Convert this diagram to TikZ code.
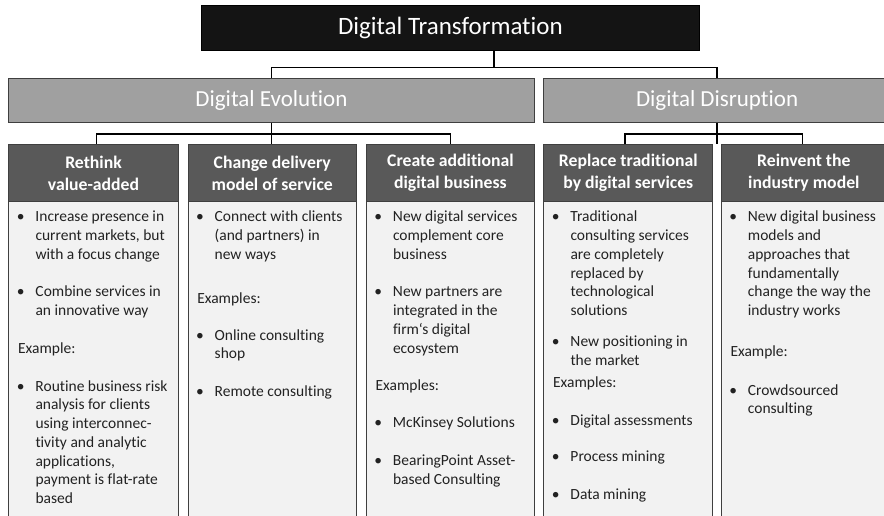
\documentclass[tikz,border=0pt]{standalone}
\usepackage{fontspec}
\setmainfont{Carlito}[Ligatures=NoCommon]
\definecolor{topfill}{HTML}{141414}
\definecolor{midfill}{HTML}{A0A0A0}
\definecolor{hdrfill}{HTML}{595959}
\definecolor{bodyfill}{HTML}{F2F2F2}
\definecolor{edgegray}{HTML}{3F3F3F}
\definecolor{txtgray}{HTML}{222222}
\newcommand{\mystrut}{\rule{0pt}{14pt}}
\newcommand{\bul}{\llap{\makebox[0pt][c]{•}\hspace{14.7pt}}}
\tikzset{
  conn/.style={draw=black, line width=1.4pt},
  topbox/.style={draw=black, fill=topfill, text=white, line width=1pt, inner sep=0,
    anchor=north west, font=\fontsize{25}{30}\selectfont},
  midbox/.style={draw=edgegray, fill=midfill, text=white, line width=1pt, inner sep=0,
    anchor=north west, font=\fontsize{23}{28}\selectfont},
  hdrbox/.style={draw=edgegray, fill=hdrfill, text=white, line width=1pt, inner sep=0,
    anchor=north west, align=center, minimum height=57,
    font=\bfseries\fontsize{17.7}{22}\selectfont},
  bodybox/.style={draw=edgegray, fill=bodyfill, line width=1pt, inner sep=0,
    anchor=north west, minimum height=330},
  para/.style={anchor=north west, align=left, inner sep=0, text=txtgray,
    font=\fontsize{15.5}{18.7}\selectfont},
}
\begin{document}
\begin{tikzpicture}[x=1pt,y=-1pt]
\useasboundingbox (0,0) rectangle (884,516);
\clip (0,0) rectangle (884,516);
\fill[white] (0,0) rectangle (884,516);

% top level
\node[topbox, minimum width=498.3, minimum height=44.7] (top) at (200.7,5.3) {Digital Transformation};
% second level
\node[midbox, minimum width=525.4, minimum height=43.4] (evo) at (8.3,78.3) {Digital Evolution};
\node[midbox, minimum width=346.7, minimum height=43.4] (dis) at (543.3,78.3) {Digital Disruption};

% column bodies
\node[bodybox, minimum width=169.4] (b1) at (8.3,201) {};
\node[bodybox, minimum width=168.5] (b2) at (187.5,201) {};
\node[bodybox, minimum width=168.2] (b3) at (365.8,201) {};
\node[bodybox, minimum width=169.0] (b4) at (543.3,201) {};
\node[bodybox, minimum width=165.3] (b5) at (720.7,201) {};

% column headers
\node[hdrbox, minimum width=169.4] (h1) at (8.3,144) {Rethink\\value-added};
\node[hdrbox, minimum width=168.5] (h2) at (187.5,144) {Change delivery\\model of service};
\node[hdrbox, minimum width=168.2] (h3) at (365.8,144) {Create additional\\digital business};
\node[hdrbox, minimum width=169.0] (h4) at (543.3,144) {Replace traditional\\by digital services};
\node[hdrbox, minimum width=165.3] (h5) at (720.7,144) {Reinvent the\\industry model};

% connectors
\coordinate (j1) at (494,67.7);
\draw[conn] (top.south -| j1) -- (j1);
\draw[conn] (evo.north) |- (j1) -| (dis.north);
\coordinate (j2) at (271.7,134);
\draw[conn] (evo.south) -- (evo.south |- h2.north);
\draw[conn] ([xshift=2.7pt]h1.north) |- (j2) -| (h3.north);
\coordinate (j3) at (716.7,134);
\draw[conn] (dis.south) -- (dis.south |- h4.north);
\draw[conn] ([xshift=-3.4pt]h4.north) |- (j3) -| ([xshift=-1.6pt]h5.north);

% column 1 text
\node[para] (c1a) at (35.3,207.7) {\mystrut\bul Increase presence in\\current markets, but\\with a focus change};
\node[para] (c1b) at (35.3,282.7) {\mystrut\bul Combine services in\\an innovative way};
\node[para] (c1c) at (17.9,339) {\mystrut Example:};
\node[para] (c1d) at (35.3,377) {\mystrut\bul Routine business risk\\analysis for clients\\using interconnec-\\tivity and analytic\\applications,\\payment is flat-rate\\based};

% column 2 text
\node[para] (c2a) at (214.5,207.7) {\mystrut\bul Connect with clients\\(and partners) in\\new ways};
\node[para] (c2b) at (197.1,289.3) {\mystrut Examples:};
\node[para] (c2c) at (214.5,326) {\mystrut\bul Online consulting\\shop};
\node[para] (c2d) at (214.5,382) {\mystrut\bul Remote consulting};

% column 3 text
\node[para] (c3a) at (392.8,207.7) {\mystrut\bul New digital services\\complement core\\business};
\node[para] (c3b) at (392.8,282.7) {\mystrut\bul New partners are\\integrated in the\\firm‘s digital\\ecosystem};
\node[para] (c3c) at (375.4,376.7) {\mystrut Examples:};
\node[para] (c3d) at (392.8,413.7) {\mystrut\bul McKinsey Solutions};
\node[para] (c3e) at (392.8,451.7) {\mystrut\bul BearingPoint Asset-\\based Consulting};

% column 4 text
\node[para] (c4a) at (570.3,207.7) {\mystrut\bul Traditional\\consulting services\\are completely\\replaced by\\technological\\solutions};
\node[para] (c4b) at (570.3,332.7) {\mystrut\bul New positioning in\\the market};
\node[para] (c4c) at (552.9,373.7) {\mystrut Examples:};
\node[para] (c4d) at (570.3,411) {\mystrut\bul Digital assessments};
\node[para] (c4e) at (570.3,447.7) {\mystrut\bul Process mining};
\node[para] (c4f) at (570.3,485.3) {\mystrut\bul Data mining};

% column 5 text
\node[para] (c5a) at (747.7,207.7) {\mystrut\bul New digital business\\models and\\approaches that\\fundamentally\\change the way the\\industry works};
\node[para] (c5b) at (730.3,342.7) {\mystrut Example:};
\node[para] (c5c) at (747.7,381) {\mystrut\bul Crowdsourced\\consulting};
\end{tikzpicture}
\end{document}
